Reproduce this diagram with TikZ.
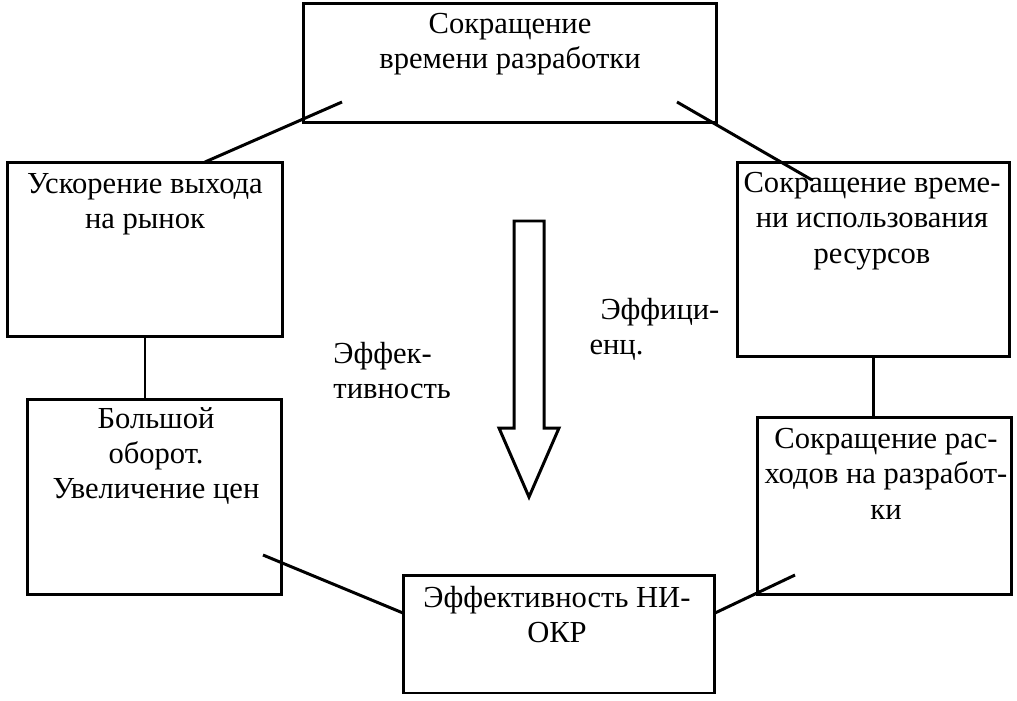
\documentclass[tikz,border=0pt]{standalone}
\usepackage{fontspec}
\setmainfont{LiberationSerif}[Extension=.ttf, UprightFont=*-Regular, BoldFont=*-Bold]
\usetikzlibrary{calc}

\begin{document}
\begin{tikzpicture}[x=0.02cm, y=-0.02cm, line width=1.7pt,
    box/.style={draw, inner sep=0pt},
    txt/.style={align=center, anchor=north, inner sep=0pt, font=\fontsize{17.4}{20}\selectfont}]
  \useasboundingbox (0,0) rectangle (1017,700);
  \node[box, minimum width=8.28cm, minimum height=2.4cm] (top) at (510,63) {};
  \node[box, minimum width=5.52cm, minimum height=3.5cm] (lu) at (145,249.5) {};
  \node[box, minimum width=5.1cm, minimum height=3.92cm] (ll) at (154.5,497) {};
  \node[box, minimum width=5.46cm, minimum height=3.9cm] (ru) at (873.5,259.5) {};
  \node[box, minimum width=5.1cm, minimum height=3.56cm] (rl) at (884.5,506) {};
  \node[box, minimum width=6.24cm, minimum height=2.36cm] (bot) at (559,634) {};
  \node[txt] (top-t) at (510,12) {Сокращение\\времени разработки};
  \node[txt] (lu-t) at (145,172) {Ускорение выхода\\на рынок};
  \node[txt] (ll-t) at (156,406) {Большой\\оборот.\\Увеличение цен};
  \node[txt] (ru-t) at (872,171) {Сокращение време-\\ни использования\\ресурсов};
  \node[txt] (rl-t) at (886,427) {Сокращение рас-\\ходов на разработ-\\ки};
  \node[txt] (bot-t) at (557,585) {Эффективность НИ-\\ОКР};
  \node[txt, anchor=north west, align=left] (eff) at (332,341) {Эффек-\\тивность};
  \node[txt, anchor=north west, align=left] (effic) at (588,297) {\hspace*{0.22cm}Эффици-\\енц.};
  \draw[line join=miter] (514,221) -- (544,221) -- (544,428) -- (559,428) -- (529,497)
    -- (499,428) -- (514,428) -- cycle;
  \coordinate (p1) at (342,102);
  \coordinate (q1) at (205,162);
  \coordinate (p2) at (677,102);
  \coordinate (q2) at (812,180);
  \coordinate (p3) at (263,555);
  \coordinate (q3) at (403,613);
  \coordinate (p4) at (715,613);
  \coordinate (q4) at (795,575);
  \draw (p1) -- (q1);
  \draw (p2) -- (q2);
  \draw (p3) -- (q3);
  \draw (p4) -- (q4);
  \draw (lu.south) -- (lu.south |- ll.north);
  \draw (ru.south) -- (ru.south |- rl.north);
\end{tikzpicture}
\end{document}
